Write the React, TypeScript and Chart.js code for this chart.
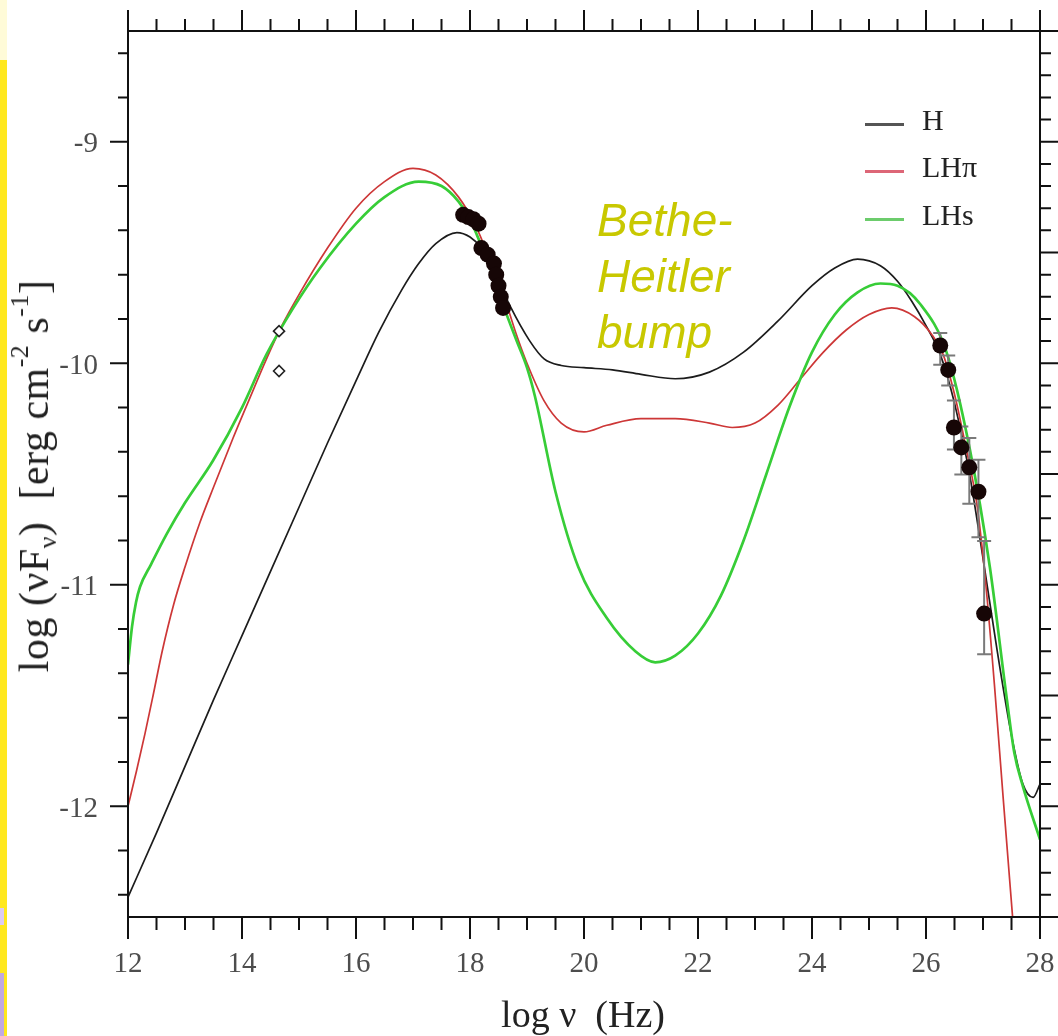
import React, { useEffect, useRef } from "react";
import { Chart, registerables } from "chart.js";

Chart.register(...registerables);

// ---------------- data ----------------
const X_TICKS = [12, 14, 16, 18, 20, 22, 24, 26, 28];
const Y_TICKS = [-12, -11, -10, -9];

// Model H (black)
const H_X = [12.0, 12.5, 13.0, 13.5, 14.0, 14.5, 15.0, 15.5, 16.0, 16.4, 16.8, 17.1, 17.4, 17.77, 18.0, 18.2, 18.45, 18.7, 19.05, 19.3, 19.6, 20.0, 20.5, 21.0, 21.6, 22.2, 22.8, 23.4, 24.0, 24.4, 24.8, 25.2, 25.5, 25.75, 26.0, 26.25, 26.5, 26.75, 27.0, 27.25, 27.5, 27.7, 27.88, 28.0];
const H_Y = [-12.41, -12.12, -11.82, -11.52, -11.23, -10.94, -10.65, -10.36, -10.08, -9.86, -9.67, -9.55, -9.46, -9.41, -9.43, -9.48, -9.6, -9.74, -9.9, -9.98, -10.01, -10.02, -10.03, -10.05, -10.07, -10.04, -9.95, -9.81, -9.65, -9.57, -9.53, -9.56, -9.63, -9.72, -9.83, -9.96, -10.18, -10.48, -10.88, -11.3, -11.68, -11.9, -11.96, -11.9];

// Model LHπ (red)
const LHPI_X = [12.0, 12.15, 12.3, 12.44, 12.6, 12.8, 13.0, 13.26, 13.5, 13.84, 14.1, 14.43, 14.7, 15.0, 15.5, 16.0, 16.5, 17.0, 17.4, 17.8, 18.1, 18.3, 18.5, 18.8, 19.0, 19.3, 19.6, 20.0, 20.4, 21.0, 21.6, 22.2, 22.6, 23.0, 23.4, 23.8, 24.2, 24.6, 25.0, 25.4, 25.8, 26.1, 26.3, 26.5, 26.7, 26.9, 27.05, 27.2, 27.35, 27.55];
const LHPI_Y = [-12.0, -11.84, -11.67, -11.5, -11.3, -11.09, -10.92, -10.72, -10.56, -10.34, -10.18, -9.98, -9.83, -9.69, -9.48, -9.3, -9.18, -9.12, -9.15, -9.25, -9.38, -9.5, -9.62, -9.86, -10.0, -10.17, -10.27, -10.31, -10.28, -10.25, -10.25, -10.27, -10.29, -10.27, -10.19, -10.07, -9.95, -9.85, -9.78, -9.75, -9.79, -9.87, -9.96, -10.14, -10.38, -10.65, -11.0, -11.45, -11.95, -12.6];

// Model LHs (green)
const LHS_X = [12.0, 12.07, 12.14, 12.21, 12.4, 12.68, 13.0, 13.49, 14.0, 14.43, 14.9, 15.37, 16.0, 16.5, 17.1, 17.5, 17.8, 18.0, 18.2, 18.4, 18.6, 18.82, 19.0, 19.14, 19.5, 19.9, 20.4, 20.9, 21.25, 21.6, 22.0, 22.4, 22.8, 23.2, 23.6, 24.0, 24.4, 24.8, 25.2, 25.5, 25.89, 26.36, 26.77, 27.12, 27.42, 27.55, 27.7, 28.0];
const LHS_Y = [-11.36, -11.19, -11.08, -11.01, -10.91, -10.77, -10.63, -10.44, -10.2, -9.96, -9.75, -9.57, -9.37, -9.25, -9.18, -9.2, -9.27, -9.35, -9.47, -9.6, -9.75, -9.9, -10.02, -10.15, -10.58, -10.92, -11.15, -11.3, -11.35, -11.32, -11.22, -11.05, -10.8, -10.5, -10.2, -9.95, -9.78, -9.68, -9.64, -9.65, -9.73, -9.95, -10.39, -10.92, -11.52, -11.76, -11.91, -12.15];

// Optical open diamonds
const OPT_X = [14.65, 14.65];
const OPT_Y = [-9.855, -10.035];

// X-ray points (filled)
const XR_X = [17.88, 17.97, 18.06, 18.15, 18.2, 18.31, 18.42, 18.46, 18.5, 18.54, 18.58];
const XR_Y = [-9.33, -9.34, -9.35, -9.37, -9.48, -9.51, -9.55, -9.6, -9.65, -9.7, -9.75];

// Gamma-ray points with error bars
const GR_X = [26.25, 26.39, 26.49, 26.62, 26.76, 26.92, 27.02];
const GR_Y = [-9.92, -10.03, -10.29, -10.38, -10.47, -10.58, -11.13];
const GR_HI = [-9.863, -9.965, -10.168, -10.286, -10.337, -10.436, -10.803];
const GR_LO = [-10.007, -10.1, -10.389, -10.502, -10.634, -10.785, -11.314];

const SERIF = "'Liberation Serif', 'Times New Roman', serif";

const toPts = (xs: number[], ys: number[]) => xs.map((x, i) => ({ x, y: ys[i] }));

const GAMMA_INDEX = 5;

const zeroPad = (s: any) => {
  s.paddingLeft = 0;
  s.paddingRight = 0;
  s.paddingTop = 0;
  s.paddingBottom = 0;
};

const errorBarPlugin = {
  id: "errorBars",
  beforeDatasetDraw(chart: any, args: any) {
    if (args.index !== GAMMA_INDEX) return;
    const { ctx, scales } = chart;
    ctx.save();
    ctx.strokeStyle = "#7a7a7a";
    ctx.lineWidth = 2;
    ctx.beginPath();
    GR_X.forEach((x, i) => {
      const px = scales.x.getPixelForValue(x);
      const top = scales.y.getPixelForValue(GR_HI[i]);
      const bot = scales.y.getPixelForValue(GR_LO[i]);
      ctx.moveTo(px, top);
      ctx.lineTo(px, bot);
      ctx.moveTo(px - 7, top);
      ctx.lineTo(px + 7, top);
      ctx.moveTo(px - 7, bot);
      ctx.lineTo(px + 7, bot);
    });
    ctx.stroke();
    ctx.restore();
  },
};

const framePlugin = {
  id: "frame",
  afterDraw(chart: any) {
    const { ctx, chartArea: a, scales } = chart;
    const xs = scales.x;
    const ys = scales.y;
    ctx.save();
    ctx.strokeStyle = "#111";
    ctx.lineWidth = 2;
    ctx.beginPath();
    ctx.moveTo(a.left, a.bottom);
    ctx.lineTo(chart.width, a.bottom);
    ctx.moveTo(a.left, a.top);
    ctx.lineTo(chart.width, a.top);
    ctx.moveTo(a.left, a.top);
    ctx.lineTo(a.left, a.bottom);
    ctx.moveTo(a.right, a.top);
    ctx.lineTo(a.right, a.bottom);
    for (let i = 0; i <= 32; i++) {
      const v = 12 + i * 0.5;
      const px = xs.getPixelForValue(v);
      const major = i % 4 === 0;
      ctx.moveTo(px, a.bottom);
      ctx.lineTo(px, a.bottom + (major ? 22 : 13));
      ctx.moveTo(px, a.top);
      ctx.lineTo(px, a.top - (major ? 21 : 12));
    }
    for (let i = 0; i <= 19; i++) {
      const v = -12.4 + i * 0.2;
      const py = ys.getPixelForValue(v);
      const major = Math.abs(v - Math.round(v)) < 1e-6;
      ctx.moveTo(a.left, py);
      ctx.lineTo(a.left - (major ? 18 : 10), py);
    }
    for (let i = 0; i <= 38; i++) {
      const v = -12.4 + i * 0.1;
      const py = ys.getPixelForValue(v);
      const long = Math.abs(v * 2 - Math.round(v * 2)) < 1e-6;
      ctx.moveTo(a.right, py);
      ctx.lineTo(a.right + (long ? 20 : 11), py);
    }
    ctx.stroke();
    ctx.restore();
  },
};

export default function App() {
  const ref = useRef<HTMLCanvasElement>(null);

  useEffect(() => {
    if (!ref.current) return;
    const lineDs = (label: string, xs: number[], ys: number[], color: string, width: number, order: number) => ({
      label,
      data: toPts(xs, ys),
      showLine: true,
      borderColor: color,
      borderWidth: width,
      pointRadius: 0,
      cubicInterpolationMode: "monotone" as const,
      fill: false,
      order,
    });
    const chart = new Chart(ref.current, {
      type: "scatter",
      data: {
        datasets: [
          lineDs("H", H_X, H_Y, "#1c1c1c", 1.7, 4),
          lineDs("LHπ", LHPI_X, LHPI_Y, "rgb(205,55,55)", 1.7, 3),
          lineDs("LHs", LHS_X, LHS_Y, "rgb(55,205,55)", 2.7, 2),
          {
            label: "optical",
            data: toPts(OPT_X, OPT_Y),
            pointStyle: "rectRot",
            pointRadius: 5.5,
            borderColor: "#222",
            borderWidth: 1.6,
            backgroundColor: "#fff",
            order: 1,
          } as any,
          {
            label: "X-ray",
            data: toPts(XR_X, XR_Y),
            pointRadius: 8,
            borderWidth: 0,
            backgroundColor: "#160606",
            order: 0,
          } as any,
          {
            label: "gamma",
            data: toPts(GR_X, GR_Y),
            pointRadius: 8,
            borderWidth: 0,
            backgroundColor: "#160606",
            order: 0,
          } as any,
        ],
      },
      options: {
        animation: false,
        responsive: false,
        maintainAspectRatio: false,
        layout: { padding: { top: 31, right: 18, left: 0, bottom: 0 } },
        plugins: { legend: { display: false }, tooltip: { enabled: false } },
        scales: {
          x: {
            type: "linear",
            position: "bottom",
            min: 12,
            max: 28,
            afterBuildTicks: (s: any) => {
              s.ticks = X_TICKS.map((v) => ({ value: v }));
            },
            afterFit: (s: any) => {
              s.height = 119;
              zeroPad(s);
            },
            grid: { display: false, drawTicks: false },
            border: { display: false },
            ticks: {
              font: { family: SERIF, size: 29 },
              color: "#4d4d4d",
              padding: 30,
              maxRotation: 0,
              autoSkip: false,
            },
          },
          y: {
            type: "linear",
            position: "left",
            min: -12.5,
            max: -8.5,
            afterBuildTicks: (s: any) => {
              s.ticks = Y_TICKS.map((v) => ({ value: v }));
            },
            afterFit: (s: any) => {
              s.width = 128;
              zeroPad(s);
            },
            grid: { display: false, drawTicks: false },
            border: { display: false },
            ticks: {
              font: { family: SERIF, size: 29 },
              color: "#4d4d4d",
              padding: 30,
              labelOffset: 3,
              autoSkip: false,
            },
          },
        },
      } as any,
      plugins: [errorBarPlugin, framePlugin],
    });
    return () => chart.destroy();
  }, []);

  const legendRow = (top: number, color: string, text: string) => (
    <div key={text}>
      <div style={{ position: "absolute", left: 865, top: top - 1.5, width: 39, height: 3, background: color }} />
      <div style={{ position: "absolute", left: 922, top: top - 22, font: `30px ${SERIF}`, color: "#222", lineHeight: "36px", whiteSpace: "nowrap" }}>{text}</div>
    </div>
  );

  return (
    <div style={{ position: "absolute", left: 0, top: 0, width: 1058, height: 1036, background: "#fff", overflow: "hidden" }}>
      <canvas ref={ref} width={1058} height={1036} style={{ position: "absolute", left: 0, top: 0 }} />
      {/* left slide strip */}
      <div style={{ position: "absolute", left: 0, top: 0, width: 7, height: 60, background: "#fffbd8" }} />
      <div style={{ position: "absolute", left: 0, top: 60, width: 7, height: 976, background: "#ffe81e" }} />
      <div style={{ position: "absolute", left: 0, top: 908, width: 4, height: 17, background: "#dccbf2" }} />
      <div style={{ position: "absolute", left: 0, top: 973, width: 4, height: 63, background: "#c1a9e1" }} />

      {legendRow(124, "#555", "H")}
      {legendRow(171, "#dd6677", "LHπ")}
      {legendRow(219, "#6ccc6c", "LHs")}

      <div style={{ position: "absolute", left: 597, top: 192, font: `italic 46px 'Liberation Sans', Arial, sans-serif`, color: "rgb(200,200,0)", lineHeight: "56px", whiteSpace: "pre" }}>
        {"Bethe-\nHeitler\nbump"}
      </div>

      <div style={{ position: "absolute", left: 583, top: 994, transform: "translateX(-50%)", font: `38px ${SERIF}`, color: "#222", lineHeight: "40px", whiteSpace: "pre" }}>
        {"log ν  (Hz)"}
      </div>

      <div style={{ position: "absolute", left: 37, top: 476, transform: "translate(-50%,-50%) rotate(-90deg)", font: `42px ${SERIF}`, color: "#222", lineHeight: "46px", whiteSpace: "pre", letterSpacing: "0.5px" }}>
        {"log (νF"}
        <span style={{ fontSize: "0.62em", position: "relative", top: "0.3em" }}>ν</span>
        {")  [erg cm"}
        <span style={{ fontSize: "0.62em", position: "relative", top: "-0.75em" }}>-2</span>
        {" s"}
        <span style={{ fontSize: "0.62em", position: "relative", top: "-0.75em" }}>-1</span>
        {"]"}
      </div>
    </div>
  );
}
